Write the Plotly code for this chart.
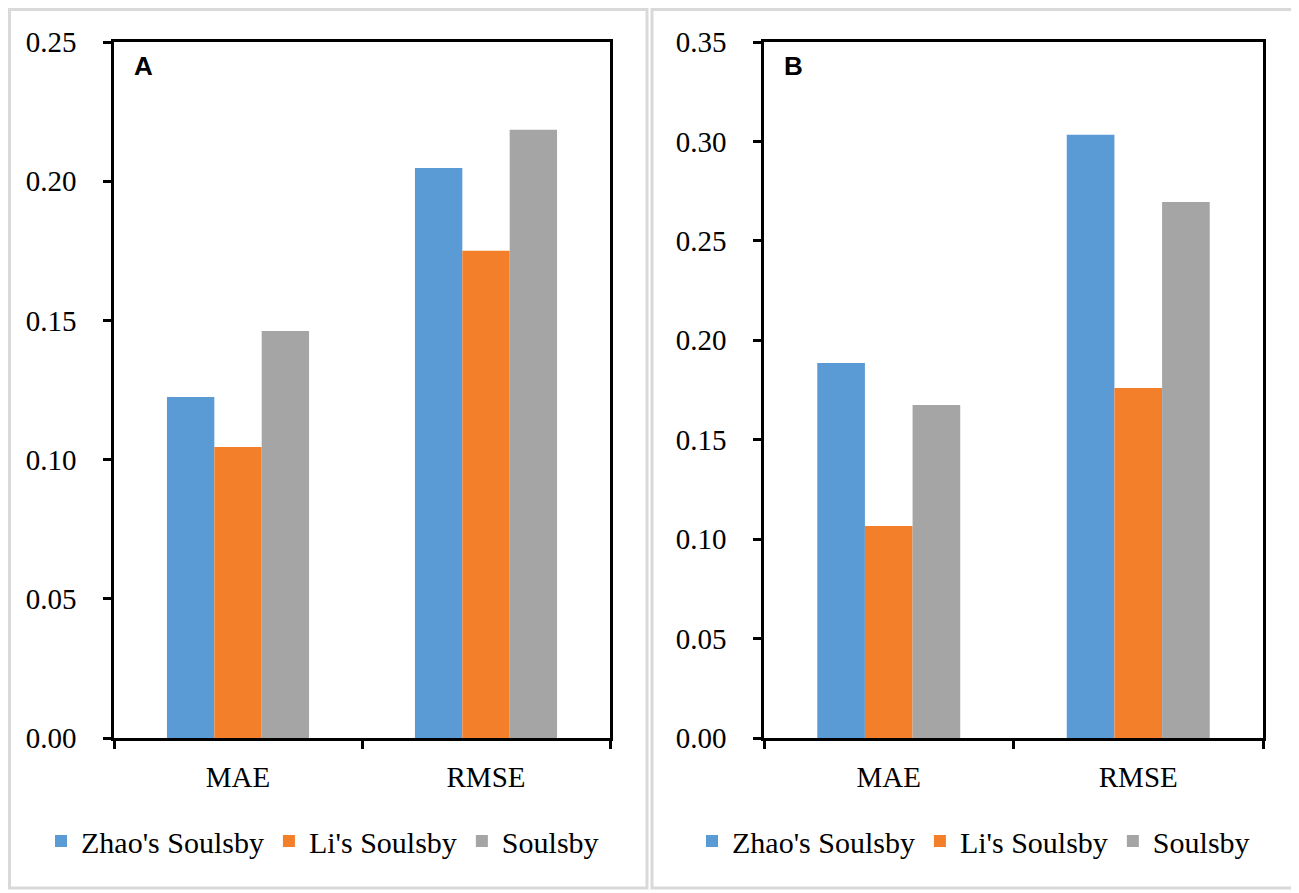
import plotly.graph_objects as go

# values
categories = ['MAE', 'RMSE']
series_names = ["Zhao's Soulsby", "Li's Soulsby", "Soulsby"]

zhao_a = [0.1225, 0.2047]
li_a = [0.1045, 0.1750]
soulsby_a = [0.1462, 0.2185]

zhao_b = [0.1886, 0.3033]
li_b = [0.1066, 0.1760]
soulsby_b = [0.1675, 0.2696]

y_ticks_a = [0, 0.05, 0.10, 0.15, 0.20, 0.25]
y_ticks_b = [0, 0.05, 0.10, 0.15, 0.20, 0.25, 0.30, 0.35]

colors = ['#5B9BD5', '#F47F2B', '#A5A5A5']

W, H = 1299, 893
OFF = 8  # page body margin
SERIF = 'Liberation Serif'


def px(x):
    return (x - OFF) / W


def py(y):
    return 1 - (y - OFF) / H


fig = go.Figure()

panels = [
    ('x', 'y', 'legend', [zhao_a, li_a, soulsby_a]),
    ('x2', 'y2', 'legend2', [zhao_b, li_b, soulsby_b]),
]
for xa, ya, leg, series in panels:
    for name, vals, col in zip(series_names, series, colors):
        fig.add_trace(go.Bar(
            x=categories, y=vals, name=name,
            marker=dict(color=col, line=dict(width=0)),
            xaxis=xa, yaxis=ya, legend=leg,
        ))

axis_common = dict(
    showline=True, linecolor='black', linewidth=2.5, mirror=True,
    ticks='outside', ticklen=8, tickwidth=2.5, tickcolor='black',
    showgrid=False, zeroline=False, automargin=False,
    tickfont=dict(family=SERIF, size=29, color='black'),
)

legend_common = dict(
    orientation='h', xanchor='left', yanchor='middle',
    font=dict(family=SERIF, size=30, color='black'),
    bgcolor='rgba(0,0,0,0)', tracegroupgap=0,
)

fig.update_layout(
    width=W, height=H,
    margin=dict(l=0, r=0, t=0, b=0, autoexpand=False),
    paper_bgcolor='white', plot_bgcolor='white',
    barmode='group', bargap=0.427, bargroupgap=0,
    xaxis=dict(domain=[px(114), px(610)], anchor='y', tickson='boundaries',
               ticklabelstandoff=11, **axis_common),
    yaxis=dict(domain=[py(738), py(42)], anchor='x', range=[0, 0.25],
               tickvals=y_ticks_a, tickformat='.2f', ticklabelstandoff=21,
               **axis_common),
    xaxis2=dict(domain=[px(764), px(1263)], anchor='y2', tickson='boundaries',
                ticklabelstandoff=11, **axis_common),
    yaxis2=dict(domain=[py(738), py(42)], anchor='x2', range=[0, 0.35],
                tickvals=y_ticks_b, tickformat='.2f', ticklabelstandoff=21,
                **axis_common),
    legend=dict(x=px(41), y=py(841), **legend_common),
    legend2=dict(x=px(692), y=py(841), **legend_common),
    shapes=[
        dict(type='rect', xref='paper', yref='paper',
             x0=px(9.5), x1=px(647), y0=py(888), y1=py(9.5),
             line=dict(color='#D9D9D9', width=3)),
        dict(type='rect', xref='paper', yref='paper',
             x0=px(652), x1=px(1296), y0=py(888), y1=py(9.5),
             line=dict(color='#D9D9D9', width=3)),
    ],
    annotations=[
        dict(text='<b>A</b>', xref='paper', yref='paper', x=px(132), y=py(66),
             xanchor='left', yanchor='middle', showarrow=False,
             font=dict(family='Liberation Sans', size=26, color='black')),
        dict(text='<b>B</b>', xref='paper', yref='paper', x=px(782), y=py(66),
             xanchor='left', yanchor='middle', showarrow=False,
             font=dict(family='Liberation Sans', size=26, color='black')),
    ],
)

fig.write_html("out.html")
